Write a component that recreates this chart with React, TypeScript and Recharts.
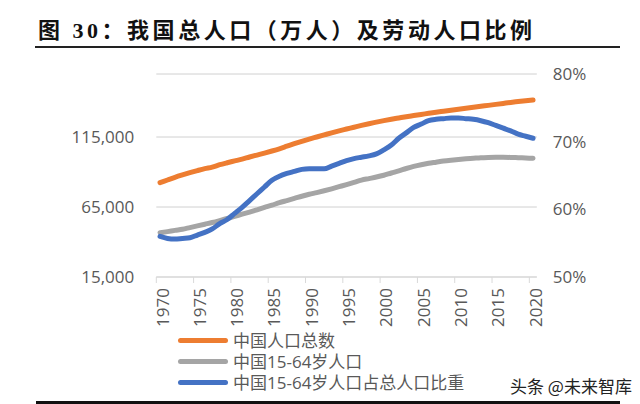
import React from 'react';
import { LineChart, Line, XAxis, YAxis, CartesianGrid } from 'recharts';

const years = [
  1970, 1971, 1972, 1973, 1974, 1975, 1976, 1977, 1978, 1979,
  1980, 1981, 1982, 1983, 1984, 1985, 1986, 1987, 1988, 1989,
  1990, 1991, 1992, 1993, 1994, 1995, 1996, 1997, 1998, 1999,
  2000, 2001, 2002, 2003, 2004, 2005, 2006, 2007, 2008, 2009,
  2010, 2011, 2012, 2013, 2014, 2015, 2016, 2017, 2018, 2019, 2020,
];

// 中国人口总数 (万人)
const totalPop = [
  82400, 84300, 86200, 87900, 89500, 91000, 92400, 93500, 95200, 96600,
  97900, 99200, 100700, 102100, 103500, 105000, 106600, 108400, 110200, 111900,
  113500, 115000, 116500, 118000, 119400, 120700, 122000, 123300, 124500, 125600,
  126700, 127700, 128600, 129500, 130300, 131100, 131900, 132700, 133400, 134100,
  134800, 135500, 136200, 136900, 137600, 138300, 139000, 139700, 140300, 140900, 141400,
];

// 中国15-64岁人口 (万人)
const workingPop = [
  46600, 47400, 48300, 49100, 50300, 51500, 52700, 53900, 55300, 56800,
  58300, 59900, 61400, 63000, 64700, 66300, 68100, 69600, 71100, 72700,
  74100, 75300, 76600, 78000, 79500, 81000, 82600, 84200, 85300, 86400,
  87700, 89300, 90800, 92500, 94000, 95200, 96200, 97000, 97800, 98400,
  98900, 99400, 99800, 100200, 100400, 100500, 100500, 100400, 100200, 100000, 99800,
];

// 中国15-64岁人口占总人口比重 (%)
const workingRatio = [
  56.0, 55.7, 55.6, 55.7, 55.8, 56.2, 56.6, 57.1, 57.9, 58.5,
  59.4, 60.3, 61.3, 62.3, 63.3, 64.3, 64.9, 65.3, 65.6, 65.9,
  66.0, 66.0, 66.0, 66.4, 66.8, 67.2, 67.5, 67.7, 67.9, 68.2,
  68.8, 69.5, 70.5, 71.3, 72.1, 72.6, 73.1, 73.3, 73.4, 73.5,
  73.5, 73.4, 73.3, 73.1, 72.8, 72.4, 72.0, 71.6, 71.1, 70.8, 70.5,
];

const xTicks = [1970, 1975, 1980, 1985, 1990, 1995, 2000, 2005, 2010, 2015, 2020];
const leftTicks = [15000, 65000, 115000];
const rightTicks = [50, 60, 70, 80];

const seriesNames = ['中国人口总数', '中国15-64岁人口', '中国15-64岁人口占总人口比重'];
const seriesColors = ['#ED7D31', '#A5A5A5', '#4472C4'];

const titleText = '图 30：我国总人口（万人）及劳动人口比例';
const watermark = '头条 @未来智库';

const data = years.map((y, i) => ({
  year: y,
  total: totalPop[i],
  working: workingPop[i],
  ratio: workingRatio[i],
}));

const CHART_W = 640;
const CHART_H = 404;
const LEFT_AXIS_W = 156.3;
const RIGHT_AXIS_W = 103.2;
const PLOT_W = CHART_W - LEFT_AXIS_W - RIGHT_AXIS_W;
const HALF_STEP = PLOT_W / years.length / 2;

const AXIS_FONT = "'Open Sans', 'Noto Sans CJK SC', sans-serif";
const TEXT_COLOR = '#595959';

function XTick(props: any) {
  const { x, y, payload } = props;
  return (
    <g>
      <line x1={x - HALF_STEP} x2={x - HALF_STEP} y1={y} y2={y + 6} stroke="#D9D9D9" strokeWidth={1} />
      <text
        transform={`translate(${x + 2},${y + 11}) rotate(-90)`}
        textAnchor="end"
        dominantBaseline="central"
        fill={TEXT_COLOR}
        fontSize={17}
        fontFamily={AXIS_FONT}
      >
        {payload.value}
      </text>
    </g>
  );
}

export default function App() {
  return (
    <div
      style={{
        position: 'absolute',
        left: 0,
        top: 0,
        width: CHART_W,
        height: CHART_H,
        background: '#ffffff',
        overflow: 'hidden',
      }}
    >
      <svg width={CHART_W} height={60} style={{ position: 'absolute', left: 0, top: 0 }}>
        <text
          x={38}
          y={38}
          textLength={494}
          lengthAdjust="spacing"
          fontSize={22}
          fontWeight={700}
          fill="#111"
          fontFamily="'Liberation Serif', 'Noto Sans CJK SC', serif"
        >
          {titleText}
        </text>
        <rect x={35} y={46} width={585} height={2} fill="#222" />
      </svg>

      <div style={{ position: 'absolute', left: 0, top: 0 }}>
        <LineChart
          width={CHART_W}
          height={CHART_H}
          data={data}
          margin={{ top: 74, right: 0, bottom: 87, left: 0 }}
        >
          <CartesianGrid yAxisId="left" vertical={false} stroke="#D0D0D0" strokeWidth={1} />
          <XAxis
            dataKey="year"
            type="number"
            domain={[1969.5, 2020.5]}
            ticks={xTicks}
            interval={0}
            height={40}
            axisLine={{ stroke: '#D9D9D9', strokeWidth: 1 }}
            tickLine={false}
            tickSize={0}
            tickMargin={0}
            tick={<XTick />}
            allowDataOverflow
          />
          <YAxis
            yAxisId="left"
            width={LEFT_AXIS_W}
            domain={[15000, 160000]}
            ticks={leftTicks}
            axisLine={false}
            tickLine={false}
            tickSize={0}
            tickMargin={22}
            tickFormatter={(v: number) => v.toLocaleString('en-US')}
            tick={{ fill: TEXT_COLOR, fontSize: 17, fontFamily: AXIS_FONT }}
            allowDataOverflow
          />
          <YAxis
            yAxisId="right"
            orientation="right"
            width={RIGHT_AXIS_W}
            domain={[50, 80]}
            ticks={rightTicks}
            axisLine={false}
            tickLine={false}
            tickSize={0}
            tickMargin={16}
            tickFormatter={(v: number) => `${v}%`}
            tick={{ fill: TEXT_COLOR, fontSize: 17, fontFamily: AXIS_FONT, textAnchor: 'start' }}
            allowDataOverflow
          />
          <Line
            yAxisId="left"
            type="monotone"
            dataKey="total"
            name={seriesNames[0]}
            stroke={seriesColors[0]}
            strokeWidth={5}
            strokeLinecap="round"
            dot={false}
            activeDot={false}
            isAnimationActive={false}
          />
          <Line
            yAxisId="left"
            type="monotone"
            dataKey="working"
            name={seriesNames[1]}
            stroke={seriesColors[1]}
            strokeWidth={5}
            strokeLinecap="round"
            dot={false}
            activeDot={false}
            isAnimationActive={false}
          />
          <Line
            yAxisId="right"
            type="monotone"
            dataKey="ratio"
            name={seriesNames[2]}
            stroke={seriesColors[2]}
            strokeWidth={5}
            strokeLinecap="round"
            dot={false}
            activeDot={false}
            isAnimationActive={false}
          />
        </LineChart>
      </div>

      <div style={{ position: 'absolute', left: 178, top: 329.5 }}>
        {seriesNames.map((name, i) => (
          <div key={name} style={{ display: 'flex', alignItems: 'center', height: 21 }}>
            <div style={{ width: 50, height: 5, borderRadius: 3, background: seriesColors[i] }} />
            <span
              style={{
                marginLeft: 5,
                fontSize: 17,
                lineHeight: '21px',
                color: TEXT_COLOR,
                fontFamily: AXIS_FONT,
                whiteSpace: 'nowrap',
              }}
            >
              {name}
            </span>
          </div>
        ))}
      </div>

      <div
        style={{
          position: 'absolute',
          left: 510,
          top: 375,
          fontSize: 17,
          lineHeight: '21px',
          color: '#222',
          fontFamily: "'Noto Sans CJK SC', sans-serif",
          whiteSpace: 'nowrap',
        }}
      >
        {watermark}
      </div>

      <div style={{ position: 'absolute', left: 36, top: 401, width: 584, height: 3, background: '#111' }} />
    </div>
  );
}
